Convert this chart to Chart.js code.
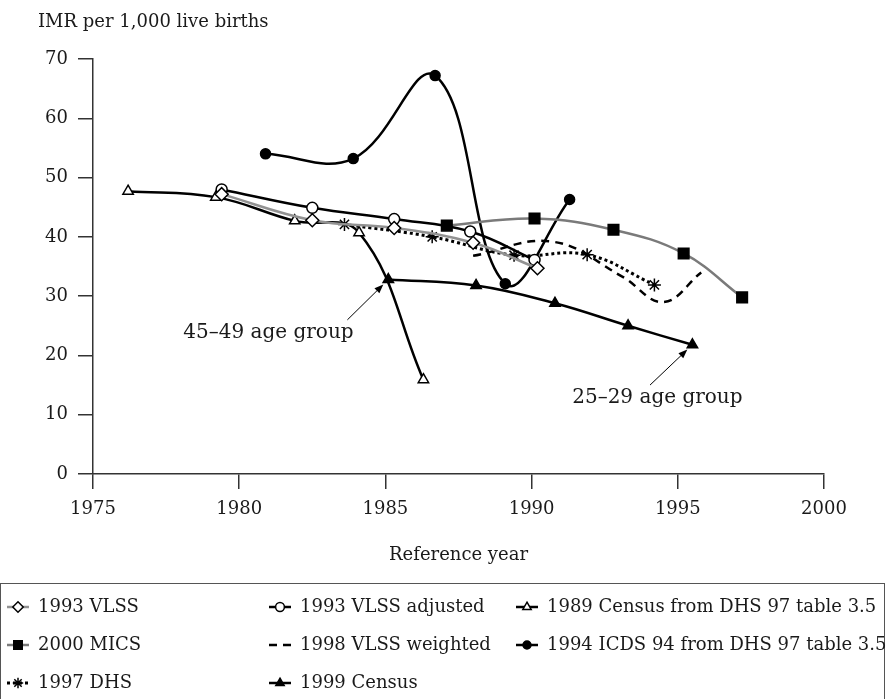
<!DOCTYPE html>
<html>
<head>
<meta charset="utf-8">
<script src="https://cdn.jsdelivr.net/npm/chart.js@4.4.0/dist/chart.umd.min.js"></script>
<style>
  html, body { margin: 0; padding: 0; background: #fff; }
  canvas { display: block; }
</style>
</head>
<body>
<canvas id="myChart" width="890" height="699"></canvas>
<script>
const FONT = '"DejaVu Serif", serif';

// x = reference year, y = IMR per 1,000 live births
const vlssYears = [1979.4, 1982.5, 1985.3, 1988.0, 1990.2];
const vlss = [47.2, 42.8, 41.5, 39.0, 34.7];
const vlssAdjYears = [1979.4, 1982.5, 1985.3, 1987.9, 1990.1];
const vlssAdj = [48.0, 44.9, 43.0, 40.9, 36.1];
const census89Years = [1976.2, 1979.2, 1981.9, 1984.1, 1986.3];
const census89 = [47.7, 46.7, 42.7, 40.7, 15.9];
const micsYears = [1987.1, 1990.1, 1992.8, 1995.2, 1997.2];
const mics = [41.9, 43.1, 41.2, 37.2, 29.8];
const vlss98Years = [1988.0, 1990.7, 1993.1, 1994.5, 1995.8];
const vlss98 = [36.8, 39.2, 33.3, 29.0, 34.0];
const icdsYears = [1980.9, 1983.9, 1986.7, 1989.1, 1991.3];
const icds = [54.0, 53.2, 67.2, 32.1, 46.3];
const dhsYears = [1983.6, 1986.6, 1989.4, 1991.9, 1994.2];
const dhs = [42.1, 40.0, 36.9, 37.0, 31.9];
const census99Years = [1985.1, 1988.1, 1990.8, 1993.3, 1995.5];
const census99 = [32.8, 31.8, 28.8, 25.0, 21.8];

const xTicks = [1975, 1980, 1985, 1990, 1995, 2000];
const yTicks = [0, 10, 20, 30, 40, 50, 60, 70];

const xTitle = 'Reference year';
const yTitle = 'IMR per 1,000 live births';

// callouts: text position, arrow tail, and which point it points to
const notes = [
  { text: '45–49 age group', at: [1981.0, 23.8], tail: [1983.7, 26.0], series: 7, index: 0 },
  { text: '25–29 age group', at: [1994.3, 12.8], tail: [1994.05, 15.0], series: 7, index: 4 }
];

const pts = (xs, ys) => xs.map((x, i) => ({ x: x, y: ys[i] }));

const series = [
  { label: '1993 VLSS', data: pts(vlssYears, vlss), borderColor: '#929292', borderWidth: 2.5,
    pointStyle: 'rectRot', pointRadius: 6.5, pointBackgroundColor: '#fff', pointBorderColor: '#000' },
  { label: '1993 VLSS adjusted', data: pts(vlssAdjYears, vlssAdj), borderColor: '#000', borderWidth: 2.5,
    pointStyle: 'circle', pointRadius: 5.5, pointBackgroundColor: '#fff', pointBorderColor: '#000' },
  { label: '1989 Census from DHS 97 table 3.5', data: pts(census89Years, census89), borderColor: '#000', borderWidth: 2.5,
    pointStyle: 'triangle', pointRadius: 6, pointBackgroundColor: '#fff', pointBorderColor: '#000' },
  { label: '2000 MICS', data: pts(micsYears, mics), borderColor: '#7a7a7a', borderWidth: 2.5,
    pointStyle: 'rect', pointRadius: 7.5, pointBackgroundColor: '#000', pointBorderColor: '#000' },
  { label: '1998 VLSS weighted', data: pts(vlss98Years, vlss98), borderColor: '#000', borderWidth: 2.5,
    borderDash: [8, 6], pointRadius: 0, pointStyle: false },
  { label: '1994 ICDS 94 from DHS 97 table 3.5', data: pts(icdsYears, icds), borderColor: '#000', borderWidth: 2.5,
    pointStyle: 'circle', pointRadius: 5, pointBackgroundColor: '#000', pointBorderColor: '#000' },
  { label: '1997 DHS', data: pts(dhsYears, dhs), borderColor: '#000', borderWidth: 3,
    borderDash: [3, 3], pointStyle: 'star', pointRadius: 6.5, pointBackgroundColor: '#000', pointBorderColor: '#000' },
  { label: '1999 Census', data: pts(census99Years, census99), borderColor: '#000', borderWidth: 2.5,
    pointStyle: 'triangle', pointRadius: 6, pointBackgroundColor: '#000', pointBorderColor: '#000' }
];

const legendCols = [38, 300, 547];
const legendRows = [607, 645, 683];

const extras = {
  id: 'extras',
  afterDraw(chart) {
    const { ctx, chartArea, scales } = chart;
    const x = scales.x, y = scales.y;
    ctx.save();
    ctx.fillStyle = '#1a1a1a';
    ctx.font = '18px ' + FONT;
    ctx.textBaseline = 'middle';

    ctx.textAlign = 'left';
    ctx.fillText(yTitle, 38, 22);
    ctx.textAlign = 'center';
    ctx.fillText(xTitle, (chartArea.left + chartArea.right) / 2, 555);

    // callouts
    notes.forEach(n => {
      ctx.font = '20px ' + FONT;
      ctx.fillStyle = '#1a1a1a';
      ctx.textAlign = 'center';
      ctx.fillText(n.text, x.getPixelForValue(n.at[0]), y.getPixelForValue(n.at[1]));
      const p = chart.getDatasetMeta(n.series).data[n.index];
      const tx = x.getPixelForValue(n.tail[0]), ty = y.getPixelForValue(n.tail[1]);
      const dx = p.x - tx, dy = p.y - ty, len = Math.hypot(dx, dy);
      const ux = dx / len, uy = dy / len;
      const ex = p.x - ux * 7, ey = p.y - uy * 7;
      ctx.strokeStyle = '#000';
      ctx.lineWidth = 1;
      ctx.beginPath();
      ctx.moveTo(tx, ty);
      ctx.lineTo(ex - ux * 6, ey - uy * 6);
      ctx.stroke();
      ctx.fillStyle = '#000';
      ctx.beginPath();
      ctx.moveTo(ex, ey);
      ctx.lineTo(ex - ux * 9 - uy * 3.5, ey - uy * 9 + ux * 3.5);
      ctx.lineTo(ex - ux * 9 + uy * 3.5, ey - uy * 9 - ux * 3.5);
      ctx.closePath();
      ctx.fill();
    });

    // legend box
    ctx.strokeStyle = '#555';
    ctx.lineWidth = 1;
    ctx.strokeRect(0.5, 583.5, 884, 200);

    ctx.font = '18px ' + FONT;
    ctx.textAlign = 'left';
    chart.data.datasets.forEach((ds, i) => {
      const tx = legendCols[i % 3];
      const cy = legendRows[Math.floor(i / 3)];
      ctx.save();
      ctx.strokeStyle = ds.borderColor;
      ctx.lineWidth = ds.borderWidth;
      ctx.setLineDash(ds.borderDash || []);
      ctx.beginPath();
      ctx.moveTo(tx - 31, cy);
      ctx.lineTo(tx - 9, cy);
      ctx.stroke();
      ctx.restore();
      if (ds.pointStyle) {
        ctx.save();
        ctx.fillStyle = ds.pointBackgroundColor;
        ctx.strokeStyle = ds.pointBorderColor;
        ctx.lineWidth = 1.5;
        Chart.helpers.drawPoint(ctx, { pointStyle: ds.pointStyle, radius: ds.pointRadius * 0.8, rotation: 0, borderWidth: 1.5 }, tx - 20, cy);
        ctx.restore();
      }
      ctx.fillStyle = '#1a1a1a';
      ctx.fillText(ds.label, tx, cy);
    });
    ctx.restore();
  }
};

const axisColor = '#333';

new Chart(document.getElementById('myChart'), {
  type: 'line',
  data: { datasets: series.map(s => Object.assign({ fill: false, tension: 0.4, pointBorderWidth: 1.5, pointHoverRadius: 0 }, s)) },
  options: {
    responsive: false,
    devicePixelRatio: 1,
    animation: false,
    layout: { padding: { left: 0, right: 66, top: 59, bottom: 116 } },
    scales: {
      x: {
        type: 'linear',
        min: 1975, max: 2000,
        afterBuildTicks: s => { s.ticks = xTicks.map(v => ({ value: v })); },
        afterFit: s => { s.height = 109; },
        ticks: { callback: v => String(v), color: '#1a1a1a', font: { family: FONT, size: 18 }, padding: 10, maxRotation: 0 },
        grid: { drawOnChartArea: false, tickLength: 15, color: axisColor, lineWidth: 1.5 },
        border: { color: axisColor, width: 1.5 }
      },
      y: {
        min: 0, max: 70,
        afterBuildTicks: s => { s.ticks = yTicks.map(v => ({ value: v })); },
        afterFit: s => { s.width = 93; },
        ticks: { color: '#1a1a1a', font: { family: FONT, size: 18 }, padding: 10 },
        grid: { drawOnChartArea: false, tickLength: 15, color: axisColor, lineWidth: 1.5 },
        border: { color: axisColor, width: 1.5 }
      }
    },
    plugins: {
      legend: { display: false },
      tooltip: { enabled: false }
    }
  },
  plugins: [extras]
});
</script>
</body>
</html>
